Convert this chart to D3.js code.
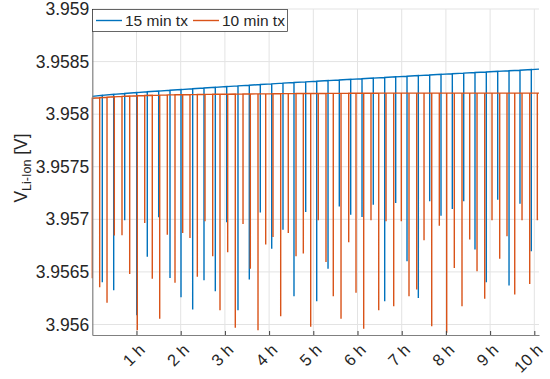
<!DOCTYPE html>
<html>
<head>
<meta charset="utf-8">
<script src="https://cdn.jsdelivr.net/npm/d3@7"></script>
<style>
  body { margin: 0; background: #fff; }
  svg { display: block; font-family: "Liberation Sans", Arial, Helvetica, sans-serif; }
</style>
</head>
<body>
<svg id="chart" width="550" height="379"></svg>
<script>
// hours, volts
var xTicks = [1, 2, 3, 4, 5, 6, 7, 8, 9, 10]
var yTicks = [3.956, 3.9565, 3.957, 3.9575, 3.958, 3.9585, 3.959]
var yTickLabels = ["3.956", "3.9565", "3.957", "3.9575", "3.958", "3.9585", "3.959"]
var tEnd = 10.106

// 15 min tx
var blueStart = 3.958169
var blueEnd = 3.958428
var blueT = [0.226, 0.484, 0.733, 1.005, 1.244, 1.502, 1.758, 2.007, 2.271, 2.527,
  2.783, 3.041, 3.296, 3.552, 3.801, 4.059, 4.314, 4.563, 4.828, 5.077,
  5.333, 5.588, 5.846, 6.102, 6.357, 6.615, 6.864, 7.120, 7.376, 7.633,
  7.889, 8.145, 8.403, 8.658, 8.914, 9.172, 9.428, 9.676, 9.932]
var blueTop = [3.958179, 3.958189, 3.958197, 3.958205, 3.958213, 3.958220, 3.958228, 3.958234, 3.958242, 3.958249,
  3.958255, 3.958262, 3.958269, 3.958275, 3.958282, 3.958288, 3.958295, 3.958301, 3.958307, 3.958313,
  3.958319, 3.958325, 3.958331, 3.958337, 3.958343, 3.958349, 3.958355, 3.958361, 3.958367, 3.958373,
  3.958379, 3.958384, 3.958390, 3.958396, 3.958401, 3.958407, 3.958413, 3.958418, 3.958424]
var blueMin = [3.956402, 3.956326, 3.956990, 3.956088, 3.956643, 3.957019, 3.956443, 3.956259, 3.956142, 3.956421,
  3.956316, 3.956971, 3.956136, 3.956427, 3.957066, 3.956719, 3.956902, 3.956269, 3.957070, 3.956221,
  3.956529, 3.957123, 3.957044, 3.957022, 3.957139, 3.956221, 3.957155, 3.956601, 3.956253, 3.957171,
  3.957035, 3.957098, 3.957171, 3.956712, 3.956402, 3.957187, 3.956370, 3.957149, 3.956696]

// 10 min tx
var orangeFirst = 3.95644
var orangeStart = 3.958152
var orangeEnd = 3.958200
var orangeT = [0.167, 0.333, 0.498, 0.672, 0.846, 1.018, 1.186, 1.357, 1.525, 1.697,
  1.871, 2.045, 2.210, 2.376, 2.550, 2.724, 2.889, 3.063, 3.235, 3.410,
  3.575, 3.749, 3.923, 4.088, 4.262, 4.434, 4.609, 4.774, 4.941, 5.113,
  5.287, 5.452, 5.627, 5.801, 5.966, 6.140, 6.305, 6.480, 6.645, 6.819,
  6.991, 7.165, 7.339, 7.505, 7.679, 7.851, 8.018, 8.190, 8.364, 8.538,
  8.704, 8.878, 9.043, 9.217, 9.382, 9.557, 9.722, 9.896, 10.068]
var orangeTop = [3.958156, 3.958161, 3.958165, 3.958169, 3.958172, 3.958175, 3.958177, 3.958179, 3.958181, 3.958183,
  3.958184, 3.958185, 3.958186, 3.958187, 3.958188, 3.958189, 3.958190, 3.958190, 3.958191, 3.958192,
  3.958192, 3.958193, 3.958193, 3.958194, 3.958195, 3.958195, 3.958196, 3.958196, 3.958197, 3.958197,
  3.958198, 3.958198, 3.958198, 3.958199, 3.958199, 3.958199, 3.958199, 3.958200, 3.958200, 3.958200,
  3.958200, 3.958200, 3.958200, 3.958200, 3.958200, 3.958200, 3.958200, 3.958200, 3.958200, 3.958200,
  3.958200, 3.958200, 3.958200, 3.958200, 3.958200, 3.958200, 3.958200, 3.958200, 3.958200]
var orangeMin = [3.956354, 3.956206, 3.956845, 3.956848, 3.956481, 3.955946, 3.956966, 3.956434, 3.956054, 3.956854,
  3.956396, 3.956871, 3.956823, 3.956453, 3.956981, 3.956648, 3.956136, 3.956686, 3.955969, 3.956956,
  3.956529, 3.955946, 3.956760, 3.956833, 3.956079, 3.956871, 3.956648, 3.956674, 3.955978, 3.956990,
  3.956595, 3.956269, 3.956054, 3.956781, 3.956301, 3.955959, 3.956990, 3.956136, 3.956981, 3.956174,
  3.956981, 3.956269, 3.956332, 3.956800, 3.955984, 3.956940, 3.955921, 3.956538, 3.956174, 3.956807,
  3.956506, 3.956244, 3.956990, 3.956624, 3.956838, 3.956285, 3.956990, 3.956386, 3.956990]

var blue = "#0072BD"
var orange = "#D95319"
var textColor = "#262626"

var svg = d3.select("#chart")
var x = d3.scaleLinear().domain([0, tEnd]).range([92.3, 539])
var y = d3.scaleLinear().domain([3.9559, 3.959]).range([335, 9])

// grid
var grid = svg.append("g").attr("stroke", "#e3e3e3").attr("stroke-width", 1)
grid.selectAll(".gx").data(xTicks).enter().append("line")
  .attr("x1", d => x(d)).attr("x2", d => x(d))
  .attr("y1", y.range()[0]).attr("y2", y.range()[1])
grid.selectAll(".gy").data(yTicks).enter().append("line")
  .attr("x1", x.range()[0]).attr("x2", x.range()[1])
  .attr("y1", d => y(d)).attr("y2", d => y(d))

// build spike paths
var series = (start, first, t, top, min, end) => {
  var pts = []
  if (first != null) pts.push([0, first])
  pts.push([0, start])
  for (var i = 0; i < t.length; i++) {
    pts.push([t[i], top[i]])
    pts.push([t[i], min[i]])
    pts.push([t[i], top[i]])
  }
  pts.push([tEnd, end])
  return pts
}
var line = d3.line().x(d => x(d[0])).y(d => y(d[1]))

svg.append("path")
  .datum(series(blueStart, null, blueT, blueTop, blueMin, blueEnd))
  .attr("d", line).attr("fill", "none")
  .attr("stroke", blue).attr("stroke-width", 1.4)
svg.append("path")
  .datum(series(orangeStart, orangeFirst, orangeT, orangeTop, orangeMin, orangeEnd))
  .attr("d", line).attr("fill", "none")
  .attr("stroke", orange).attr("stroke-width", 1.4)

// axes
var xAxis = d3.axisBottom(x).tickValues(xTicks).tickSizeInner(-4).tickSizeOuter(0).tickFormat(d => d + " h")
var gx = svg.append("g").attr("transform", "translate(0," + y.range()[0] + ")").call(xAxis)
gx.select(".domain").attr("stroke", "#808080").attr("stroke-width", 1.2)
gx.selectAll(".tick line").attr("stroke", "#404040")
gx.selectAll(".tick text")
  .attr("fill", textColor).attr("font-size", 16.5)
  .attr("text-anchor", "end")
  .attr("dy", null).attr("y", null)
  .attr("transform", "translate(9,16) rotate(-45)")

var yAxis = d3.axisLeft(y).tickValues(yTicks).tickSizeInner(0).tickSizeOuter(0)
  .tickPadding(3).tickFormat((d, i) => yTickLabels[i])
var gy = svg.append("g").attr("transform", "translate(" + x.range()[0] + ",0)").call(yAxis)
gy.select(".domain").attr("stroke", "#808080").attr("stroke-width", 1.2)
gy.selectAll(".tick text").attr("fill", textColor).attr("font-size", 17.5)

// y label
var ylab = svg.append("text")
  .attr("transform", "translate(27,168) rotate(-90)")
  .attr("text-anchor", "middle")
  .attr("fill", textColor).attr("font-size", 17.5)
ylab.append("tspan").text("V")
ylab.append("tspan").attr("font-size", 12.5).attr("dy", 4).text("Li-Ion")
ylab.append("tspan").attr("dy", -4).text(" [V]")

// legend
var legend = svg.append("g").attr("font-size", 15.5).attr("fill", textColor)
legend.append("rect")
  .attr("x", 92.5).attr("y", 9.5).attr("width", 195).attr("height", 22)
  .attr("fill", "#fff").attr("stroke", "#262626").attr("stroke-width", 0.7)
var items = [["15 min tx", blue, 96], ["10 min tx", orange, 193]]
items.forEach(it => {
  legend.append("line")
    .attr("x1", it[2]).attr("x2", it[2] + 26).attr("y1", 20.5).attr("y2", 20.5)
    .attr("stroke", it[1]).attr("stroke-width", 1.4)
  legend.append("text").attr("x", it[2] + 29).attr("y", 26).text(it[0])
})
</script>
</body>
</html>
